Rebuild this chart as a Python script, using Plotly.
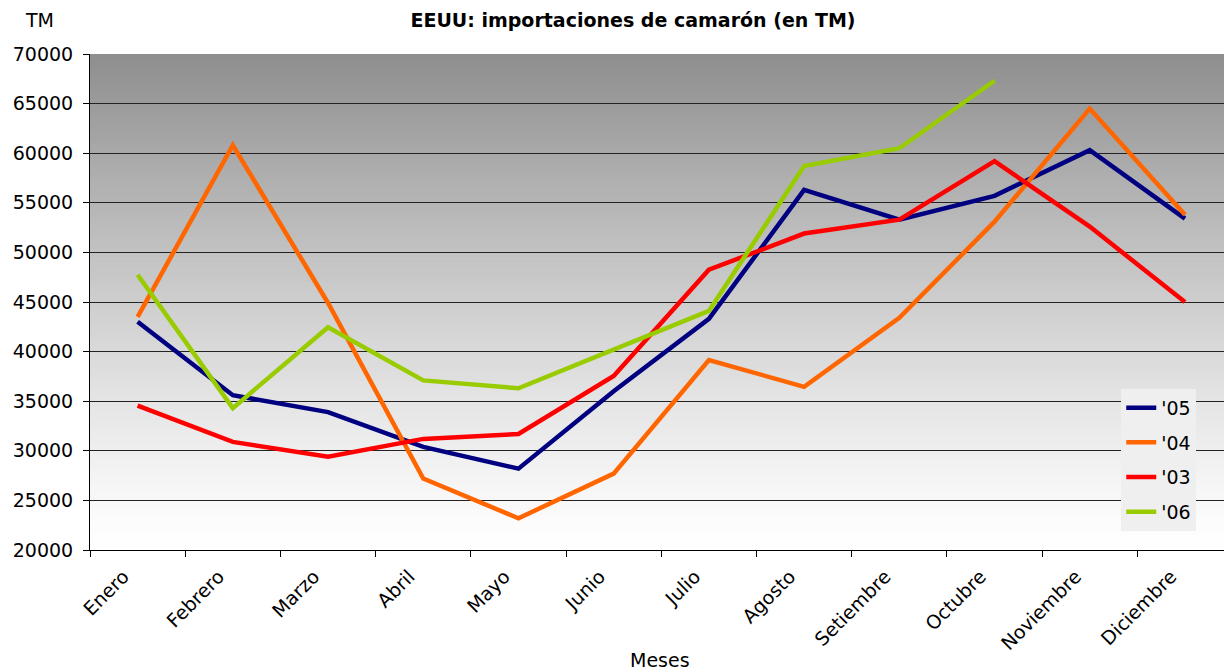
import plotly.graph_objects as go

months = ["Enero", "Febrero", "Marzo", "Abril", "Mayo", "Junio", "Julio",
          "Agosto", "Setiembre", "Octubre", "Noviembre", "Diciembre"]
y05 = [43000, 35600, 33900, 30400, 28200, 36000, 43300, 56300, 53300, 55700, 60300, 53400]
y04 = [43500, 60800, 44900, 27200, 23200, 27700, 39150, 36450, 43400, 53100, 64500, 53800]
y03 = [34550, 30900, 29400, 31200, 31700, 37550, 48250, 51900, 53300, 59200, 52600, 45000]
y06 = [47750, 34300, 42450, 37100, 36300, 40250, 44100, 58700, 60500, 67300, None, None]

series = [("'05", y05, "#000080"), ("'04", y04, "#ff6600"),
          ("'03", y03, "#ff0000"), ("'06", y06, "#99cc00")]

FONT = "DejaVu Sans, Verdana, sans-serif"
YMIN, YMAX = 20000, 70000

fig = go.Figure()
for name, ys, col in series:
    fig.add_trace(go.Scatter(x=months, y=ys, name=name, mode="lines",
                             legendgroup=name,
                             line=dict(color=col, width=4.5), connectgaps=False))

# gradient background (grey at top -> white at bottom)
shapes = []
N = 100
step = (YMAX - YMIN) / N
def shade(f):
    c = int(round(255 - 113 * (f ** 1.2)))
    return f"rgb({c},{c},{c})"
for i in range(N):
    y0 = YMIN + i * step
    f = (i + 0.5) / N
    shapes.append(dict(type="rect", xref="x domain", yref="y", x0=0, x1=1,
                       y0=y0, y1=min(y0 + step * 1.8, YMAX), fillcolor=shade(f),
                       line=dict(width=0), layer="below"))

fig.update_layout(
    width=1224, height=671,
    margin=dict(l=90, r=0, t=54, b=121, autoexpand=False),
    paper_bgcolor="white", plot_bgcolor="white",
    font=dict(family=FONT, size=19, color="#000000"),
    title=dict(text="<b>EEUU: importaciones de camarón (en TM)</b>",
               x=0.4788, xref="paper", xanchor="center",
               y=1 - 20 / 671, yref="container", yanchor="middle",
               font=dict(family=FONT, size=19, color="#000000")),
    showlegend=True,
    legend=dict(x=0.9094, y=0.325, xanchor="left", yanchor="top",
                bgcolor="#efefef", font=dict(family=FONT, size=19),
                tracegroupgap=7),
    shapes=shapes,
    annotations=[
        dict(text="TM", xref="paper", yref="paper", x=-0.0441, y=1.0685,
             showarrow=False, xanchor="center", yanchor="middle",
             font=dict(family=FONT, size=19)),
        dict(text="Meses", xref="paper", yref="paper", x=0.5026, y=-0.222,
             showarrow=False, xanchor="center", yanchor="middle",
             font=dict(family=FONT, size=19)),
    ],
)
fig.update_xaxes(type="category", range=[-0.5, 11.41], tickangle=-45,
                 automargin=False,
                 showgrid=False, showline=True, linecolor="black", linewidth=1,
                 ticks="outside", tickson="boundaries", ticklen=6,
                 tickcolor="black", zeroline=False,
                 ticklabelshift=-14, ticklabelstandoff=7,
                 tickfont=dict(family=FONT, size=19))
fig.update_yaxes(range=[YMIN, YMAX], dtick=5000, tickformat="d",
                 automargin=False,
                 showgrid=True, gridcolor="#222222", gridwidth=1,
                 showline=True, linecolor="black", linewidth=1,
                 ticks="outside", ticklen=6, tickcolor="black",
                 zeroline=False, ticklabelstandoff=6,
                 tickfont=dict(family=FONT, size=19))

fig.write_html("out.html", config={"displayModeBar": False},
               post_script="document.body.style.margin='0';document.body.style.overflow='hidden';")
